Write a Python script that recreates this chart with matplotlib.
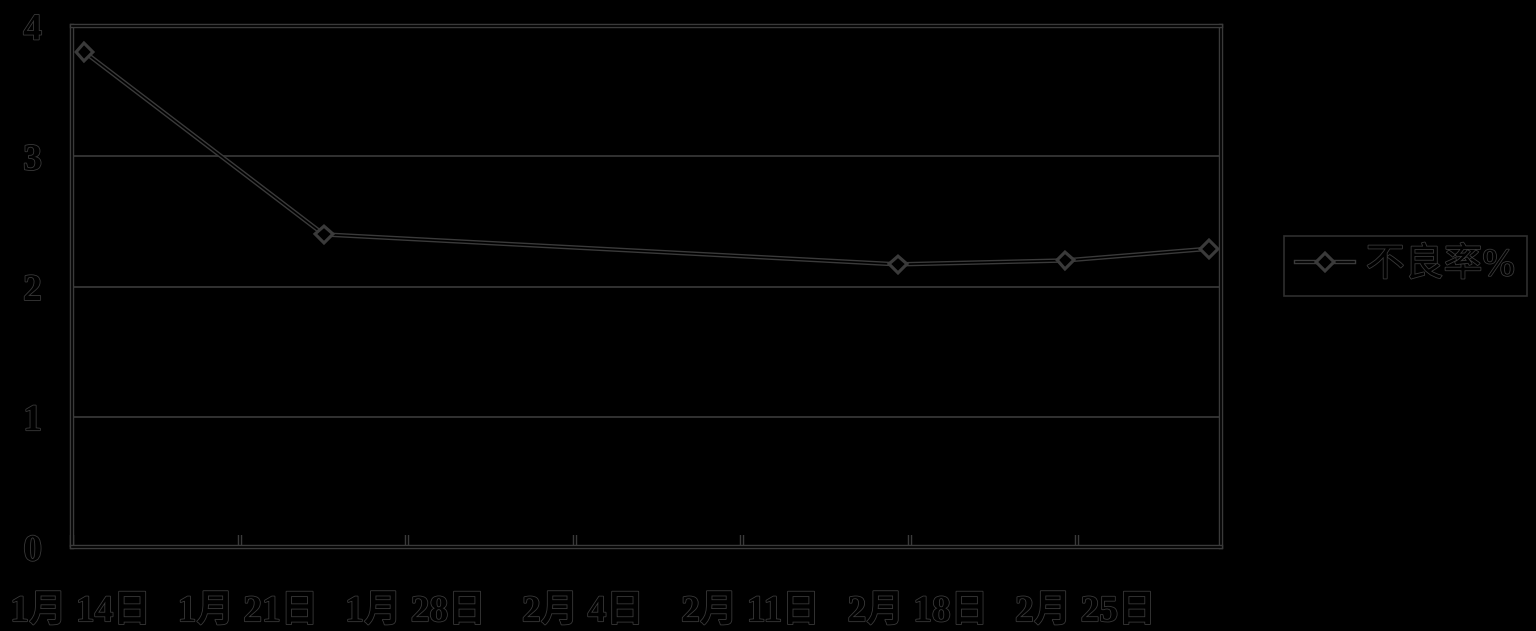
import numpy as np
import matplotlib.pyplot as plt
import matplotlib.patheffects as pe
import matplotlib.transforms as mtransforms
from matplotlib.lines import Line2D

# ---------------------------------------------------------------------------
# Data (days counted from 1月14日)
# ---------------------------------------------------------------------------

day_offsets = [0.5, 10.5, 34.5, 41.5, 47.5]
defect_rate = [3.80, 2.40, 2.17, 2.20, 2.29]

tick_days = [0, 7, 14, 21, 28, 35, 42]
tick_labels = ['1月 14日', '1月 21日', '1月 28日', '2月 4日',
               '2月 11日', '2月 18日', '2月 25日']
y_ticks = [0, 1, 2, 3, 4]
series_name = '不良率%'

# ---------------------------------------------------------------------------
# Style: black shapes with a faint grey outline on a black background
# ---------------------------------------------------------------------------

EDGE = '#3a3a3a'
FONT = ['Liberation Serif', 'Noto Sans CJK SC', 'DejaVu Sans']
outline = [pe.Stroke(linewidth=3.2, foreground=EDGE), pe.Normal()]
text_outline = [pe.withStroke(linewidth=1.2, foreground=EDGE)]

fig = plt.figure(figsize=(15.36, 6.31), dpi=100, facecolor='black')
ax = fig.add_axes([0.0472, 0.1331, 0.7477, 0.8257], facecolor='black')

ax.set_xlim(0, 48)
ax.set_ylim(0, 4)

# grid lines
for y in y_ticks[1:-1]:
    ax.axhline(y, color=EDGE, lw=1.2, zorder=1)

line, = ax.plot(day_offsets, defect_rate, color='black', lw=1.2,
                marker='D', markersize=8, markerfacecolor='black',
                markeredgecolor=EDGE, markeredgewidth=1.3, zorder=3)
line.set_path_effects(outline)

for s in ax.spines.values():
    s.set_color('black')
    s.set_linewidth(1.2)
    s.set_path_effects(outline)

ax.set_yticks(y_ticks)
ax.set_yticklabels([str(v) for v in y_ticks])
ax.set_xticks(tick_days)
ax.set_xticklabels(tick_labels)
ax.tick_params(axis='y', length=0, pad=22)
ax.tick_params(axis='x', direction='in', length=9, width=1.2,
               color='black', pad=34)
for t in ax.xaxis.get_major_ticks():
    t.tick1line.set_path_effects(outline)

for lab in ax.get_xticklabels() + ax.get_yticklabels():
    lab.set_family(FONT)
    lab.set_fontsize(27)
    lab.set_fontweight('bold')
    lab.set_color('black')
    lab.set_path_effects(text_outline)

# nudge the date labels a little to the right, as in the original
shift = mtransforms.ScaledTranslation(8 / 100, 0, fig.dpi_scale_trans)
for lab in ax.get_xticklabels():
    lab.set_transform(lab.get_transform() + shift)

# legend
handle = Line2D([], [], color='black', lw=1.2, marker='D', markersize=8,
                markerfacecolor='black', markeredgecolor=EDGE,
                markeredgewidth=1.3, path_effects=outline)
leg = fig.legend([handle], [series_name], loc='center left',
                 bbox_to_anchor=(0.836, 0.5785), borderaxespad=0,
                 frameon=True, fancybox=False, handlelength=1.5,
                 handletextpad=0.3, borderpad=0.3,
                 prop={'family': FONT, 'size': 28})
frame = leg.get_frame()
frame.set_facecolor('black')
frame.set_edgecolor(EDGE)
frame.set_linewidth(1.2)
for t in leg.get_texts():
    t.set_color('black')
    t.set_path_effects(text_outline)

fig.savefig('out.png', dpi=100, facecolor='black')
